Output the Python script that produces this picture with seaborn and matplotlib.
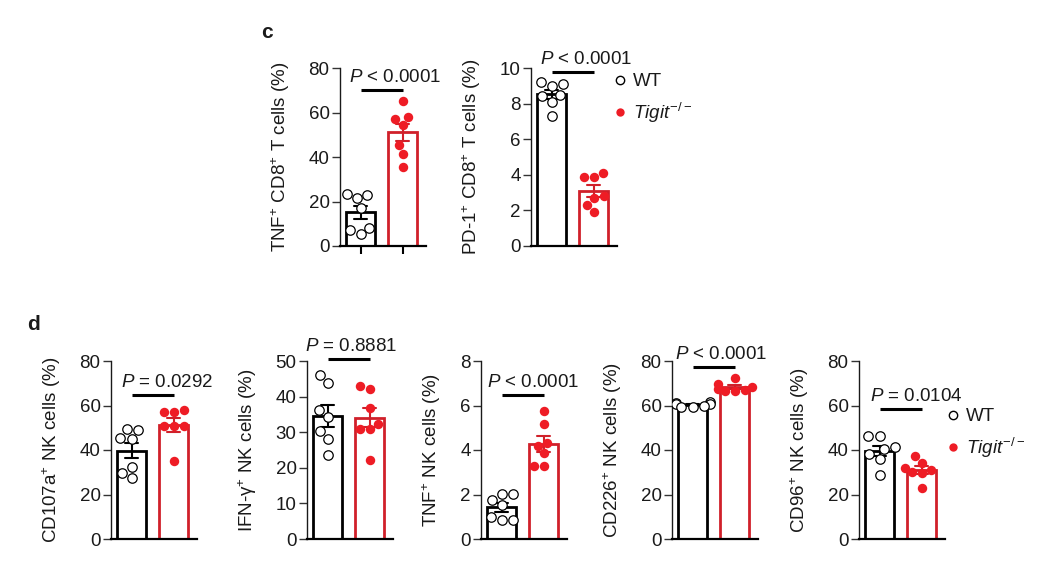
import numpy as np
import pandas as pd
import matplotlib
matplotlib.use("Agg")
import matplotlib.pyplot as plt
import seaborn as sns
from matplotlib.lines import Line2D

# ---------------- data ----------------
groups = ["WT", "Tigit"]

c1_wt = [23.5, 23.0, 21.4, 16.9, 8.2, 7.2, 5.2]
c1_ko = [65.3, 58.0, 57.1, 54.3, 45.3, 41.4, 35.7]
c2_wt = [9.2, 9.1, 9.0, 8.5, 8.4, 8.1, 7.3]
c2_ko = [4.1, 3.9, 3.9, 2.8, 2.7, 2.3, 1.9]
d1_wt = [49.5, 48.8, 45.3, 44.9, 32.5, 29.8, 27.6]
d1_ko = [57.8, 56.9, 56.9, 50.6, 50.6, 50.6, 35.2]
d2_wt = [46.2, 43.9, 36.2, 34.3, 30.3, 28.2, 23.6]
d2_ko = [42.9, 42.2, 36.9, 32.4, 31.0, 31.0, 22.1]
d3_wt = [2.03, 2.03, 1.76, 1.51, 0.97, 0.85, 0.85]
d3_ko = [5.76, 5.16, 4.33, 4.18, 3.85, 3.28, 3.28]
d4_wt = [61.5, 61.0, 60.5, 60.5, 60.0, 59.5, 59.5]
d4_ko = [72.5, 69.5, 68.5, 67.5, 67.0, 66.5, 66.5]
d5_wt = [46.3, 46.3, 41.2, 40.4, 38.0, 36.0, 28.8]
d5_ko = [37.3, 34.3, 31.8, 31.0, 30.3, 29.5, 22.8]

ylabels = [
    "TNF$^{+}$ CD8$^{+}$ T cells (%)",
    "PD-1$^{+}$ CD8$^{+}$ T cells (%)",
    "CD107a$^{+}$ NK cells (%)",
    "IFN-γ$^{+}$ NK cells (%)",
    "TNF$^{+}$ NK cells (%)",
    "CD226$^{+}$ NK cells (%)",
    "CD96$^{+}$ NK cells (%)",
]
ymax = [80, 10, 80, 50, 8, 80, 80]
ystep = [20, 2, 20, 10, 2, 20, 20]
ptexts = [
    r"$\mathit{P}$ < 0.0001",
    r"$\mathit{P}$ < 0.0001",
    r"$\mathit{P}$ = 0.0292",
    r"$\mathit{P}$ = 0.8881",
    r"$\mathit{P}$ < 0.0001",
    r"$\mathit{P}$ < 0.0001",
    r"$\mathit{P}$ = 0.0104",
]
pline_y = [70.1, 9.79, 64.7, 50.6, 6.47, 77.4, 58.4]
legend_labels = ["WT", r"$\mathit{Tigit}^{-/-}$"]

# ---------------- style ----------------
sns.set_style("ticks")
plt.rcParams["font.family"] = ["Liberation Sans", "DejaVu Sans"]
plt.rcParams["mathtext.fontset"] = "custom"
plt.rcParams["mathtext.rm"] = "Liberation Sans"
plt.rcParams["mathtext.it"] = "Liberation Sans:italic"
plt.rcParams["mathtext.bf"] = "Liberation Sans:bold"
plt.rcParams["text.color"] = "#1a1a1a"
plt.rcParams["axes.labelcolor"] = "#1a1a1a"

RED_BAR = "#d0202a"
RED_DOT = "#ee1c25"
FS = 13.5
MS = 6.8

W, H = 1038, 564
fig = plt.figure(figsize=(W / 100, H / 100), dpi=100)

# layout (pixels): spine x, top, bottom, text dx, has x ticks
layout = [
    (340, 68, 246, 13, True),
    (531, 68, 246, 13, False),
    (111, 361, 539, 14, False),
    (307, 361, 539, 2, False),
    (481, 361, 539, 10, False),
    (672, 361, 539, 7, False),
    (859, 361, 539, 16, False),
]
AX_W = 86

datasets = [(c1_wt, c1_ko), (c2_wt, c2_ko), (d1_wt, d1_ko), (d2_wt, d2_ko),
            (d3_wt, d3_ko), (d4_wt, d4_ko), (d5_wt, d5_ko)]

for i, ((wt, ko), (x0, top, bot, tdx, xt)) in enumerate(zip(datasets, layout)):
    ax = fig.add_axes([x0 / W, 1 - bot / H, AX_W / W, (bot - top) / H])
    df = pd.DataFrame({"g": ["WT"] * len(wt) + ["Tigit"] * len(ko),
                       "v": list(wt) + list(ko)})
    for g, col in [("WT", "black"), ("Tigit", RED_BAR)]:
        sns.barplot(data=df[df.g == g], x="g", y="v", order=groups, color=col,
                    fill=False, errorbar="se", capsize=0.3, width=0.68,
                    linewidth=2.0, err_kws={"color": col, "linewidth": 1.5},
                    ax=ax)
    sns.swarmplot(data=df[df.g == "WT"], x="g", y="v", order=groups,
                  color="white", edgecolor="black", linewidth=0.9, size=MS,
                  warn_thresh=1, ax=ax, zorder=3)
    sns.swarmplot(data=df[df.g == "Tigit"], x="g", y="v", order=groups,
                  color=RED_DOT, linewidth=0, size=MS,
                  warn_thresh=1, ax=ax, zorder=3)

    ax.set_xlim(-0.49, 1.55)
    ax.set_ylim(0, ymax[i])
    ticks = np.arange(0, ymax[i] + 1e-9, ystep[i])
    ax.set_yticks(ticks)
    ax.set_yticklabels([f"{t:g}" for t in ticks])
    ax.set_xticks([0, 1])
    ax.set_xticklabels(["", ""])
    ax.set_xlabel("")
    ax.set_ylabel(ylabels[i], fontsize=FS, labelpad=12)
    for s in ["top", "right"]:
        ax.spines[s].set_visible(False)
    ax.spines["left"].set_linewidth(1.0)
    ax.spines["bottom"].set_linewidth(1.6)
    ax.spines["left"].set_color("#1a1a1a")
    ax.spines["bottom"].set_color("black")
    ax.tick_params(axis="y", length=5.5, width=1.0, labelsize=FS, pad=2,
                   color="#333333", labelcolor="#1a1a1a")
    if xt:
        ax.tick_params(axis="x", length=5.5, width=1.5, color="black")
    else:
        ax.tick_params(axis="x", length=0)

    ly = pline_y[i]
    ax.plot([0, 1], [ly, ly], color="black", lw=2.2, clip_on=False,
            solid_capstyle="butt")
    ax.annotate(ptexts[i], xy=(0.5, ly), xytext=(tdx * 0.72, 5.5),
                textcoords="offset points", ha="center", va="baseline",
                fontsize=FS, annotation_clip=False)

handles = [
    Line2D([], [], marker="o", ls="", mfc="white", mec="black", ms=6, mew=1.0),
    Line2D([], [], marker="o", ls="", mfc=RED_DOT, mec=RED_DOT, ms=6, mew=0),
]
for (lx, ly_) in [(612, 73), (945, 408)]:
    fig.legend(handles, legend_labels, loc="upper left",
               bbox_to_anchor=(lx / W, 1 - ly_ / H), bbox_transform=fig.transFigure,
               frameon=False, fontsize=FS, handlelength=0.8, handletextpad=0.3,
               labelspacing=0.55, borderpad=0, borderaxespad=0)

fig.text(267 / W, 1 - 32 / H, "c", fontsize=15, fontweight="bold",
         ha="center", va="center")
fig.text(33 / W, 1 - 325 / H, "d", fontsize=15, fontweight="bold",
         ha="center", va="center")

fig.savefig("out.png", dpi=100)
